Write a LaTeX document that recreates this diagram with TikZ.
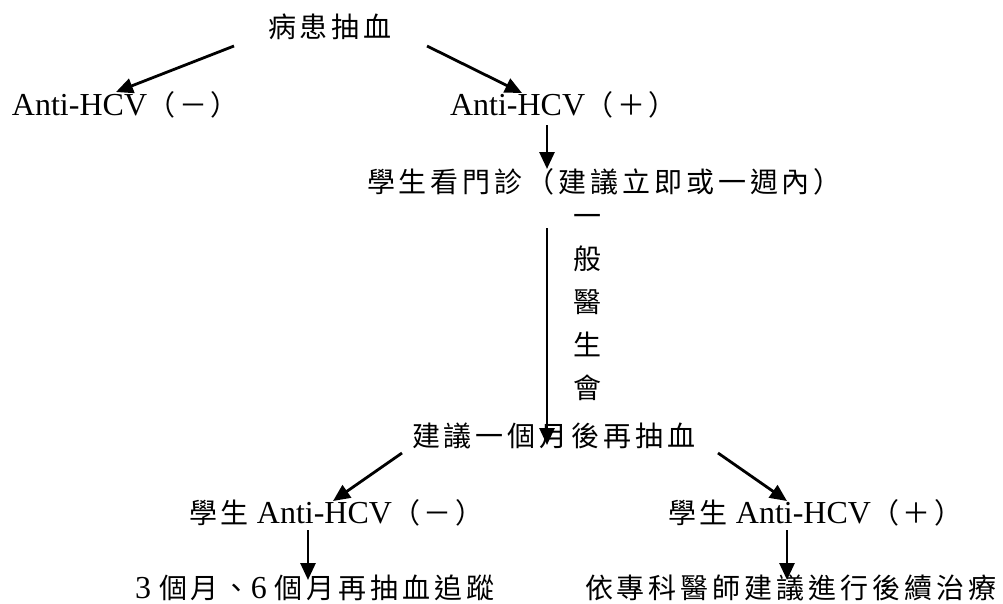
\documentclass[tikz,border=0pt]{standalone}
\usepackage{fontspec}
\setmainfont{Liberation Serif}
\newfontfamily\cjkf[LetterSpace=14]{Noto Sans CJK TC}
\newfontfamily\cjkv{Noto Sans CJK TC}
\usetikzlibrary{arrows.meta}
\newcommand\zh[1]{{\fontsize{28pt}{32pt}\cjkf #1}}
\newcommand\la[1]{{\fontsize{32pt}{36pt}\selectfont #1}}
\tikzset{
  lbl/.style={anchor=base west, inner sep=0pt, outer sep=0pt},
  arr/.style={line width=2.8pt, -{Triangle[length=17pt,width=15pt]}}
}
\begin{document}
\begin{tikzpicture}[x=1pt,y=-1pt]
\useasboundingbox (0,0) rectangle (1003,603);
\fill[white] (0,0) rectangle (1003,603);
% texts
\node[lbl] (blood) at (268,37) {\zh{病患抽血}};
\node[lbl] (neg) at (12,115) {\la{Anti-HCV}\zh{（－）}};
\node[lbl] (pos) at (450,115) {\la{Anti-HCV}\zh{（＋）}};
\node[lbl] (clinic) at (367,192) {\zh{學生看門診（建議立即或一週內）}};
\node[inner sep=0pt, align=center, font=\fontsize{28pt}{43pt}\cjkv] (gp) at (587,308) {一\\般\\醫\\生\\會};
\node[lbl] (redraw) at (412,446) {\zh{建議一個月後再抽血}};
\node[lbl] (sneg) at (189,523) {\zh{學生}\la{\ Anti-HCV}\zh{（－）}};
\node[lbl] (spos) at (668,523) {\zh{學生}\la{\ Anti-HCV}\zh{（＋）}};
\node[lbl] (follow) at (135,598) {\la{3\ }\zh{個月、}\la{6\ }\zh{個月再抽血追蹤}};
\node[lbl] (treat) at (585,598) {\zh{依專科醫師建議進行後續治療}};
% connector ends
\coordinate (a1s) at (234,46);  \coordinate (a1e) at (116,92);
\coordinate (a2s) at (427,46);  \coordinate (a2e) at (522,93);
\coordinate (a3s) at (547,125); \coordinate (a3e) at (547,169);
\coordinate (a4s) at (547,228); \coordinate (a4e) at (547,445);
\coordinate (a5s) at (402,453); \coordinate (a5e) at (333,501);
\coordinate (a6s) at (718,453); \coordinate (a6e) at (787,501);
\coordinate (a7s) at (308,530); \coordinate (a7e) at (308,580);
\coordinate (a8s) at (787,530); \coordinate (a8e) at (787,580);
\draw[arr] (a1s) -- (a1e);
\draw[arr] (a2s) -- (a2e);
\draw[arr] (a3s) -- (a3e);
\draw[arr] (a4s) -- (a4e);
\draw[arr] (a5s) -- (a5e);
\draw[arr] (a6s) -- (a6e);
\draw[arr] (a7s) -- (a7e);
\draw[arr] (a8s) -- (a8e);
\end{tikzpicture}
\end{document}
